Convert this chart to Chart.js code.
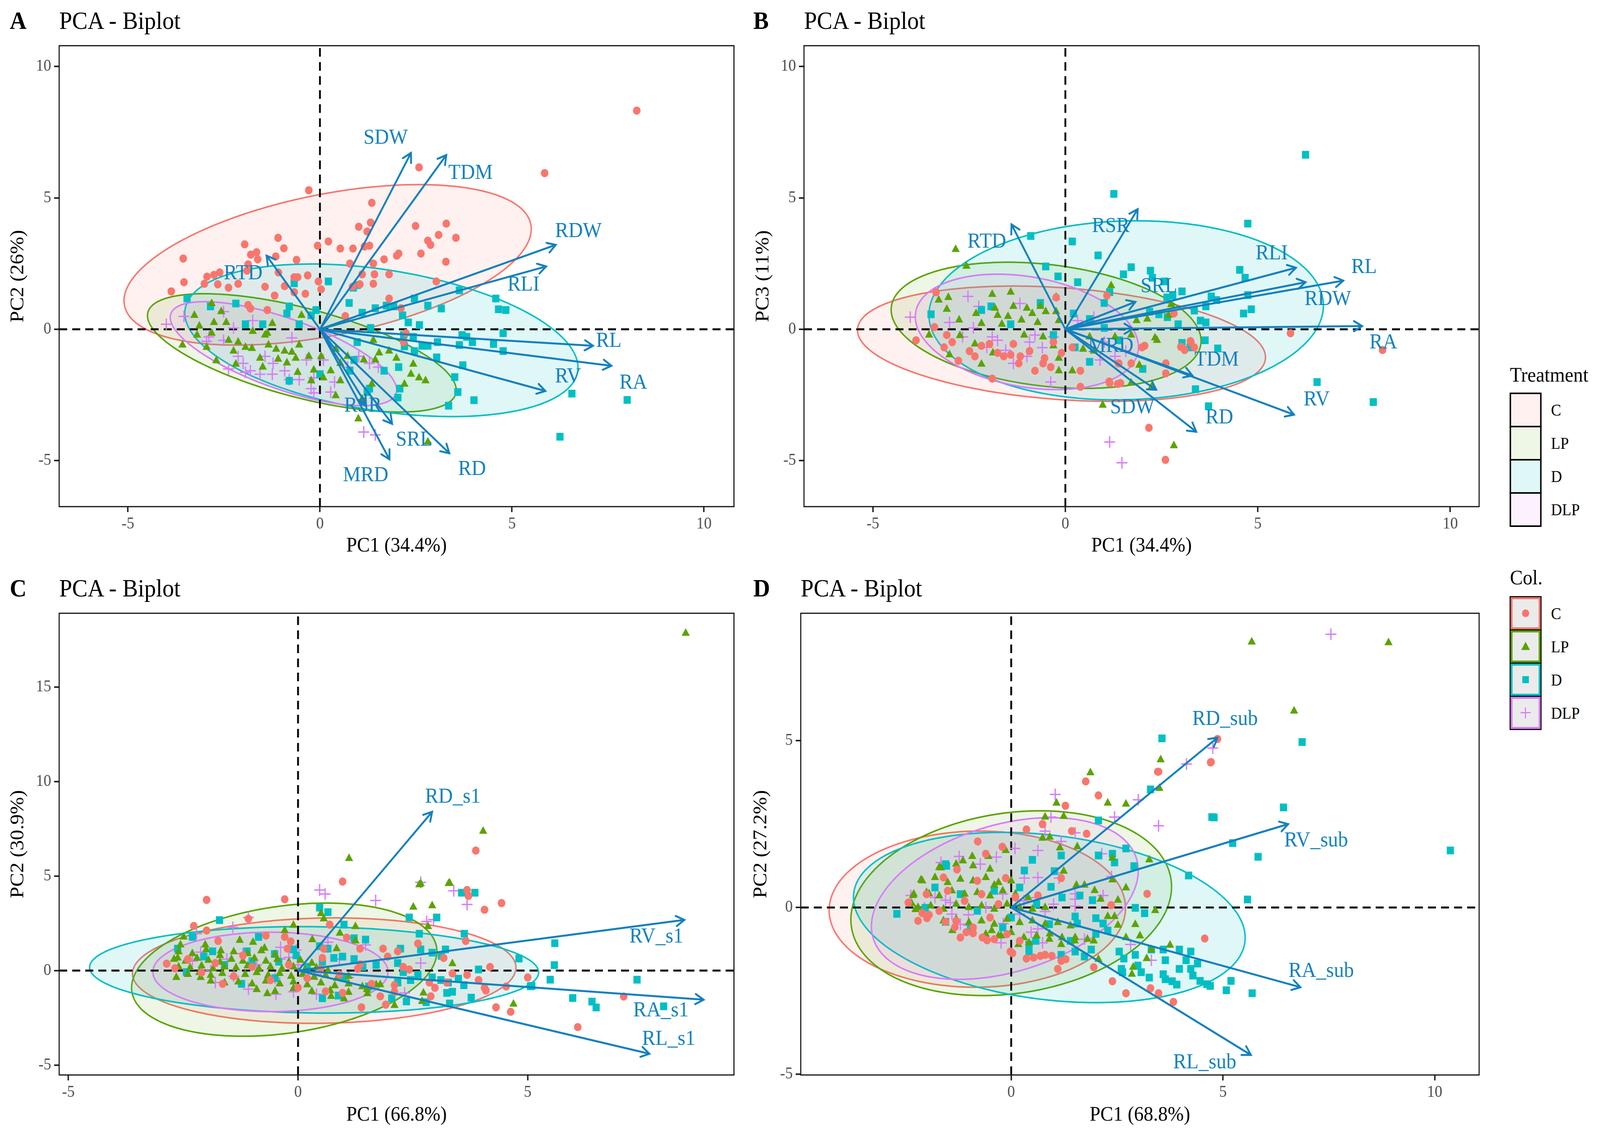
<!DOCTYPE html>
<html>
<head>
<meta charset="utf-8">
<script src="https://cdn.jsdelivr.net/npm/chart.js@4.4.1/dist/chart.umd.min.js"></script>
<style>
html,body{margin:0;padding:0;background:#fff;overflow:hidden;}
#page{position:absolute;left:0;top:0;width:4408px;height:2898px;background:#fff;overflow:hidden;transform-origin:0 0;font-family:"Liberation Serif","Times New Roman",serif;color:#000;}
canvas{position:absolute;}
.tag{position:absolute;font-size:64px;line-height:64px;font-weight:bold;}
.ttl{position:absolute;font-size:64px;line-height:64px;}
.lgt{position:absolute;font-size:53px;line-height:53px;}
.llab{position:absolute;font-size:42px;line-height:42px;}
.tbox{position:absolute;width:88px;height:89px;box-sizing:border-box;border:4px solid #000;}
.cbox{position:absolute;width:88px;height:88px;box-sizing:border-box;border:3px solid #111;}
.cin{position:absolute;left:5px;top:5px;right:5px;bottom:5px;background:#ebebeb;}
</style>
</head>
<body>
<div id="page">
<div class="tag" style="left:27px;top:21px">A</div>
<div class="ttl" style="left:163px;top:21px">PCA - Biplot</div>
<div class="tag" style="left:2075px;top:21px">B</div>
<div class="ttl" style="left:2215px;top:21px">PCA - Biplot</div>
<div class="tag" style="left:27px;top:1474px">C</div>
<div class="ttl" style="left:163px;top:1474px">PCA - Biplot</div>
<div class="tag" style="left:2075px;top:1474px">D</div>
<div class="ttl" style="left:2206px;top:1474px">PCA - Biplot</div>

<canvas id="chA" width="2050" height="1430" style="left:0px;top:0px;width:2050px;height:1430px"></canvas>
<canvas id="chB" width="2050" height="1430" style="left:2060px;top:0px;width:2050px;height:1430px"></canvas>
<canvas id="chC" width="2050" height="1468" style="left:0px;top:1430px;width:2050px;height:1468px"></canvas>
<canvas id="chD" width="2050" height="1468" style="left:2060px;top:1430px;width:2050px;height:1468px"></canvas>

<div id="legend"></div>
</div>

<script>
// the window may be narrower than the 4408x2898 figure: stretch the page onto it
var page = document.getElementById('page');
var sx = window.innerWidth / 4408, sy = window.innerHeight / 2898;
if (Math.abs(sx - 1) > 0.002 || Math.abs(sy - 1) > 0.002) page.style.transform = 'scale(' + sx + ',' + sy + ')';

// groups and styles
var groups = ['C', 'LP', 'D', 'DLP'];
var grpColors = ['#F8766D', '#5BA300', '#00BFC4', '#D77CF7'];
var grpFills = ['rgba(248,118,109,0.10)', 'rgba(91,163,0,0.10)', 'rgba(0,191,196,0.12)', 'rgba(215,124,247,0.10)'];
var grpStyles = ['circle', 'triangle', 'rect', 'cross'];
var grpRadius = [10.5, 13, 14, 15];
var arrowColor = '#1380BD';
var fontFam = '"Liberation Serif", "Times New Roman", serif';

//---------------- panel A : PC1 / PC2 ----------------
var xTicksA = [-5, 0, 5, 10];
var yTicksA = [-5, 0, 5, 10];
var varsA = ['SDW', 'TDM', 'RDW', 'RLI', 'RL', 'RA', 'RV', 'RD', 'SRL', 'MRD', 'RSR', 'RTD'];
var tipsA = [[2.37,6.71],[3.29,6.63],[6.14,3.21],[5.89,2.39],[7.11,-0.63],[7.59,-1.39],[5.87,-2.35],[3.37,-4.72],[1.88,-3.6],[1.81,-4.95],[1.2,-2.85],[-1.39,2.80]];
var labsA = [[1.71,7.28],[3.92,5.94],[6.73,3.72],[5.30,1.68],[7.52,-0.46],[8.16,-2.04],[6.46,-1.81],[3.96,-5.33],[2.45,-4.22],[1.19,-5.57],[1.12,-2.93],[-2.0,2.12]];
// ellipse: centre x, centre y, semi axis a, semi axis b, angle (deg)
var ellA = [[0.2,2.45,5.53,2.62,18.8],[-0.47,-0.9,4.31,1.63,-22.9],[1.6,-0.42,5.26,2.64,-15.4],[-0.95,-0.93,3.32,1.26,-29.8]];
var ptsA_C = [[8.25,8.32],[5.85,5.94],[2.58,6.16],[-0.29,5.29],[1.35,4.81],[3.29,4.02],[2.49,3.93],[1.01,3.9],[1.32,4.06],[1.23,3.72],[3.09,3.59],[3.54,3.48],[2.81,3.37],[2.88,3.21],[-1.09,3.48],[-1.96,3.23],[-0.94,3.08],[-0.06,3.18],[0.22,3.34],[0.53,3.07],[0.86,3.07],[1.16,3.15],[1.29,3.18],[2.63,2.88],[2.05,2.88],[2.0,2.8],[1.67,2.66],[1.39,2.5],[3.28,2.57],[-1.65,2.93],[-1.8,2.84],[-1.62,2.66],[-1.15,2.77],[-1.87,2.47],[-3.56,2.69],[-3.54,1.79],[-3.87,1.44],[-3.01,1.73],[-2.94,2.0],[-2.76,2.07],[-2.61,2.16],[-2.66,1.71],[-2.38,1.58],[-2.13,1.73],[-1.9,2.23],[-1.43,1.62],[-1.08,2.16],[-0.92,1.64],[-0.67,1.98],[-0.58,1.98],[-0.32,2.05],[-0.61,2.64],[-0.04,1.82],[0.03,1.52],[-0.38,1.35],[-1.18,1.28],[-0.67,1.41],[0.78,2.5],[1.1,2.09],[1.42,2.09],[1.8,2.09],[1.04,1.71],[1.39,1.73],[1.8,1.17],[2.11,0.8],[3.03,1.82],[-1.87,0.92],[-1.81,0.79],[-1.37,0.73],[0.66,0.5],[2.24,-0.15],[2.18,-0.49],[0.85,1.62]];
var ptsA_LP = [[2.81,-4.29],[1.0,-3.41],[2.75,-1.96],[2.43,-1.33],[2.58,-1.85],[2.2,-2.09],[2.37,-1.71],[1.99,-1.1],[1.8,-0.83],[1.54,-0.9],[1.39,-0.42],[1.44,-1.17],[1.14,-1.17],[1.35,-2.09],[1.1,-2.66],[0.53,-1.96],[0.41,-2.53],[0.09,-1.85],[0.03,-1.03],[-0.16,-1.55],[-0.29,-1.03],[-0.23,-1.96],[-0.58,-1.64],[-0.54,-0.6],[-0.63,-1.1],[-0.86,-1.28],[-0.73,-0.87],[-0.92,-0.83],[-1.09,-1.14],[-1.14,-0.76],[-1.34,-0.6],[-1.37,-0.15],[-1.56,-1.1],[-1.49,-1.44],[-1.77,-0.73],[-1.94,-0.69],[-2.13,-0.49],[-2.25,-0.83],[-2.19,-1.33],[-2.38,-0.42],[-2.44,0.26],[-2.57,0.67],[-2.76,0.26],[-2.82,-0.15],[-2.7,-1.2],[-2.82,0.98],[-3.14,0.12],[-3.27,0.53],[-3.2,-0.22],[-2.95,-0.69],[-3.58,-0.6],[-1.24,0.22],[-1.43,-0.22],[-1.75,-0.08],[-0.48,0.53],[0.41,-0.76],[0.72,-1.03],[0.53,-1.3],[0.28,-1.58]];
var ptsA_D = [[8.0,-2.69],[6.25,-4.09],[6.56,-2.45],[4.01,-2.7],[3.59,-2.39],[3.35,-2.91],[3.51,-1.82],[3.72,-1.37],[3.04,-1.07],[2.81,-0.63],[3.06,-0.49],[3.63,-0.6],[3.82,-0.29],[3.7,-0.22],[3.97,-0.49],[4.52,-0.56],[4.77,-0.83],[4.77,-0.15],[4.65,0.76],[4.84,0.73],[4.58,1.17],[3.63,1.48],[3.16,0.79],[2.81,0.9],[2.46,1.17],[2.15,0.53],[2.3,0.26],[2.59,0.16],[1.92,0.87],[1.73,0.9],[1.44,0.8],[1.1,0.63],[1.32,0.05],[0.97,1.68],[0.87,1.58],[0.22,1.82],[-0.67,1.75],[-0.8,0.87],[-0.86,0.6],[-1.49,0.19],[-2.19,0.98],[-1.94,0.19],[-3.46,1.17],[-2.85,0.87],[-0.54,0.19],[-0.23,0.53],[-0.1,0.73],[0.76,1.0],[2.18,-0.22],[2.43,-0.29],[2.2,-0.65],[2.46,-0.83],[2.66,-0.63],[2.05,-1.44],[2.03,-2.6],[2.08,-2.26],[1.67,-1.58],[0.97,-0.49],[0.89,-1.17],[0.78,-1.58],[-0.8,-1.96],[0.0,-1.71],[1.29,-2.26],[1.23,-2.39]];
var ptsA_DLP = [[1.14,-3.91],[1.44,-4.02],[-4.0,0.19],[-3.54,0.49],[-2.51,0.67],[-2.95,-0.46],[-2.51,-0.42],[-2.13,-1.03],[-2.0,-1.3],[-1.81,-1.58],[-1.94,-1.64],[-1.56,-1.71],[-1.22,-1.3],[-1.24,-1.71],[-0.92,-1.58],[-0.8,-1.92],[-0.54,-1.92],[-0.35,-1.17],[-0.16,-1.85],[-0.16,-2.42],[-0.23,-2.26],[0.28,-2.39],[0.38,-2.01],[0.72,-1.44],[1.01,-1.03],[1.29,-1.3],[1.52,-1.44],[-1.75,0.33],[-2.25,0.05],[-2.89,-0.29],[0.09,-1.17],[-0.73,-0.33],[-1.43,-1.03],[-2.38,-1.51]];

//---------------- panel B : PC1 / PC3 ----------------
var xTicksB = [-5, 0, 5, 10];
var yTicksB = [-5, 0, 5, 10];
var varsB = ['RTD', 'RSR', 'RLI', 'RL', 'RDW', 'SRL', 'RA', 'MRD', 'TDM', 'SDW', 'RD', 'RV'];
var tipsB = [[-1.40,3.99],[1.88,4.57],[5.99,2.34],[7.22,1.85],[6.24,1.79],[1.82,1.04],[7.71,0.12],[1.75,0.02],[3.3,-1.76],[2.36,-2.3],[3.4,-3.9],[5.94,-3.25]];
var labsB = [[-2.04,3.32],[1.18,3.91],[5.36,2.88],[7.76,2.36],[6.82,1.14],[2.43,1.63],[8.26,-0.52],[1.18,-0.65],[3.93,-1.17],[1.74,-2.98],[4.0,-3.37],[6.53,-2.69]];
var ellB = [[-0.1,-0.55,5.33,2.12,-6.6],[-0.5,0.15,4.09,2.29,-12.3],[1.58,0.72,5.13,3.40,3.6],[-1.0,-0.1,3.01,2.04,-21.5]];
var ptsB_C = [[8.24,-0.79],[5.85,-0.15],[2.17,-3.75],[2.6,-4.97],[-3.88,-0.42],[-3.4,0.08],[-3.08,-0.22],[-2.94,-0.49],[-3.15,-0.69],[-2.78,-1.2],[-2.49,-0.83],[-2.35,-1.03],[-2.18,-0.63],[-1.9,-1.88],[-1.97,-0.56],[-1.76,-0.9],[-1.6,-1.03],[-1.42,-0.97],[-1.35,-0.56],[-1.17,-1.03],[-0.93,-0.83],[-0.79,-1.58],[-0.58,-1.3],[-0.54,-1.1],[-0.38,-1.44],[-0.31,-0.49],[-0.24,1.21],[-0.1,-0.9],[0.18,-0.69],[0.39,-2.19],[0.39,-1.58],[1.08,1.28],[1.15,-2.05],[1.43,-2.05],[1.38,-1.3],[1.71,-1.3],[1.99,-0.69],[2.06,-0.63],[2.61,-1.68],[2.82,0.6],[3.03,-0.69],[3.1,-0.79],[3.26,-0.49],[3.35,-0.69],[-1.21,-1.3],[-3.36,1.41],[2.61,-1.3],[3.0,-0.67],[3.25,-0.45],[1.36,-2.08],[1.14,-1.99],[1.39,-1.3]];
var ptsB_LP = [[-2.85,3.04],[-2.57,2.4],[2.82,-4.43],[0.97,-2.89],[1.19,1.66],[-0.24,1.22],[-1.42,1.41],[-1.9,1.33],[-3.04,1.21],[-3.29,1.11],[-3.08,0.76],[-2.76,0.35],[-2.32,0.6],[-2.18,0.22],[-1.83,0.8],[-1.76,0.53],[-1.49,0.49],[-1.35,0.87],[-1.14,0.35],[-1.0,0.8],[-0.86,0.6],[-0.72,0.26],[-0.65,0.87],[-0.51,0.67],[-0.24,0.67],[-0.17,0.33],[-1.07,-0.22],[-0.58,-0.29],[-0.31,-0.63],[-0.17,-1.58],[0.18,-1.58],[-0.17,-1.1],[0.46,-0.76],[0.74,-0.83],[0.63,-0.29],[1.29,-0.29],[1.71,-0.22],[1.85,0.33],[2.13,0.39],[2.33,-0.33],[2.38,-0.42],[1.92,-1.37],[1.71,-2.05],[2.24,-2.19],[2.68,0.53],[2.75,0.94],[-2.35,-0.56],[-2.74,-0.24],[-2.18,-1.33],[-3.01,-0.97],[-1.88,-0.9],[-3.54,-0.22],[-1.65,0.19]];
var ptsB_D = [[6.24,6.64],[1.26,5.15],[4.74,4.02],[-0.9,3.55],[0.18,3.34],[0.85,2.81],[-0.51,2.39],[-0.19,2.01],[0.32,1.79],[1.71,2.36],[1.51,2.09],[2.21,2.23],[2.26,1.96],[2.57,1.82],[3.03,1.44],[2.79,1.28],[2.64,1.21],[4.53,2.26],[4.67,1.96],[3.79,1.25],[3.93,1.11],[4.74,1.3],[4.63,0.6],[4.83,0.76],[3.65,0.87],[3.35,0.71],[3.51,0.33],[3.65,0.26],[2.93,0.19],[2.65,0.46],[2.43,0.57],[2.19,0.67],[1.15,1.41],[1.01,1.0],[0.63,0.39],[0.21,0.6],[-0.65,1.0],[-1.42,0.19],[-1.93,0.87],[-2.18,0.73],[-3.49,0.57],[-0.31,-0.22],[0.25,-0.69],[0.63,-1.24],[2.01,-1.51],[3.03,-0.52],[3.63,-0.42],[3.96,-0.73],[3.24,-0.69],[3.38,-2.28],[3.72,-2.93],[6.54,-2.01],[8.0,-2.77],[1.01,0.05],[1.4,-0.42]];
var ptsB_DLP = [[1.15,-4.29],[1.47,-5.08],[-4.03,0.46],[-2.53,1.25],[-1.18,0.98],[-2.25,0.87],[-3.01,0.26],[-1.9,-0.29],[-1.76,-0.42],[-2.04,-0.69],[-1.35,-1.3],[-1.0,-1.03],[-0.93,-0.49],[-0.79,-0.22],[-0.31,-0.29],[-0.38,-2.01],[0.32,0.33],[0.74,0.46],[0.9,-1.17],[1.01,-0.49],[1.29,-1.03],[1.57,-0.83],[-2.39,0.05],[-2.67,-0.29],[-1.55,-0.8],[-0.6,-0.7]];

//---------------- panel C : PC1 / PC2 (s1) ----------------
var xTicksC = [-5, 0, 5];
var yTicksC = [-5, 0, 5, 10, 15];
var varsC = ['RD_s1', 'RV_s1', 'RA_s1', 'RL_s1'];
var tipsC = [[2.92,8.40],[8.41,2.68],[8.83,-1.54],[7.65,-4.40]];
var labsC = [[3.37,9.17],[7.80,1.78],[7.90,-2.12],[8.07,-3.63]];
var ellC = [[0.57,0.0,4.18,2.78,3.9],[-0.3,0.05,3.87,2.91,51],[0.35,0.04,4.89,2.28,-2],[-0.6,-0.07,2.56,2.1,0]];
var ptsC_C = [[3.87,6.35],[0.97,4.71],[-1.99,3.74],[-0.29,3.77],[-1.08,2.74],[-2.27,2.36],[-1.99,2.12],[-1.74,1.57],[-0.7,1.85],[-0.29,1.78],[-0.16,1.54],[-0.23,1.16],[0.69,2.43],[1.06,1.74],[0.56,1.16],[0.53,0.67],[1.35,1.16],[1.35,0.33],[1.85,1.16],[2.17,1.02],[1.95,0.74],[2.29,0.19],[2.42,0.06],[2.61,1.43],[3.68,4.26],[3.71,3.95],[4.06,3.22],[4.43,3.57],[3.65,1.57],[4.18,0.19],[3.68,-0.22],[3.93,-0.5],[4.06,-0.91],[4.09,-1.05],[4.53,-0.84],[5.0,-0.36],[4.31,-1.94],[4.63,-2.18],[2.86,-0.63],[2.98,-0.91],[2.89,-1.36],[2.1,-0.77],[2.1,-1.12],[1.79,-1.36],[1.38,-1.94],[1.91,-1.8],[0.97,-1.18],[-1.64,-0.7],[-2.86,0.37],[-2.68,0.12],[3.17,0.67],[3.36,-0.15],[3.24,-0.63],[7.09,-1.37],[6.09,-2.99],[-2.4,0.6],[-2.1,-0.1],[-1.8,0.4],[-1.4,-0.3],[-1.0,0.2],[-0.6,-0.5],[-0.2,0.3],[0.2,-0.4],[0.5,0.1],[0.9,-0.2],[1.3,0.1],[1.6,-0.7],[-1.2,0.8],[0.0,-0.9],[0.6,-1.1]];
var ptsC_LP = [[8.44,17.84],[4.03,7.37],[1.11,5.93],[3.28,4.61],[2.64,4.54],[2.67,4.6],[3.3,4.63],[2.51,3.36],[2.92,3.43],[2.83,2.33],[0.5,3.02],[0.56,2.74],[-0.1,2.4],[-0.29,2.12],[0.91,1.98],[1.25,2.33],[0.31,1.64],[0.84,1.16],[1.25,1.57],[-2.49,1.78],[-2.56,1.36],[-2.02,1.36],[-1.68,1.05],[-1.27,1.6],[-0.98,1.5],[-0.73,1.19],[3.36,0.37],[4.69,-1.77],[2.1,-1.84],[2.73,-1.18],[2.7,-1.63],[1.51,-1.22],[1.79,-0.74],[0.72,-1.36],[1.0,-1.49],[-0.67,-1.22],[-2.65,-0.36],[-2.12,-0.36],[-2.62,0.67],[-2.6,1.0],[-2.3,0.9],[-2.0,1.1],[-1.7,0.8],[-1.4,1.0],[-1.1,0.9],[-0.8,1.05],[-0.5,0.85],[-2.7,0.6],[-2.45,0.5],[-2.2,0.65],[-1.95,0.55],[-1.7,0.45],[-1.45,0.6],[-1.2,0.5],[-0.95,0.65],[-0.7,0.5],[-0.45,0.6],[-0.2,0.45],[0.05,0.55],[0.3,0.4],[-2.6,0.2],[-2.35,0.15],[-2.1,0.25],[-1.85,0.1],[-1.6,0.2],[-1.35,0.15],[-1.1,0.25],[-0.85,0.1],[-0.6,0.2],[-0.35,0.1],[-0.1,0.2],[0.15,0.05],[0.4,0.15],[0.65,0.0],[-2.4,-0.2],[-2.15,-0.1],[-1.9,-0.25],[-1.65,-0.15],[-1.4,-0.3],[-1.15,-0.2],[-0.9,-0.1],[-0.65,-0.25],[-0.4,-0.15],[-0.15,-0.3],[0.1,-0.2],[0.35,-0.35],[0.6,-0.25],[0.85,-0.4],[1.1,-0.3],[-1.9,-0.55],[-1.6,-0.65],[-1.3,-0.6],[-1.0,-0.7],[-0.7,-0.55],[-0.4,-0.7],[-0.1,-0.6],[0.2,-0.75],[0.5,-0.65],[0.8,-0.8],[1.1,-0.7],[1.4,-0.85],[1.7,-0.75],[-0.9,-1.0],[-0.5,-1.1],[-0.1,-0.95],[0.3,-1.1],[0.7,-1.05],[1.1,-1.15],[1.5,-1.0]];
var ptsC_D = [[0.47,3.33],[0.65,3.09],[1.0,2.43],[2.42,2.81],[3.02,2.81],[3.56,4.12],[3.85,4.12],[2.64,1.95],[3.62,1.95],[4.81,0.64],[5.09,-0.81],[1.47,1.64],[1.22,1.71],[0.65,1.16],[0.78,0.67],[0.97,0.74],[1.22,0.61],[1.41,0.19],[2.23,1.16],[2.67,1.12],[2.92,0.95],[3.21,1.12],[3.12,0.78],[2.17,0.4],[2.29,-0.08],[2.45,-0.5],[2.61,-0.22],[2.92,-0.36],[3.11,-0.5],[3.27,-0.63],[3.49,-0.43],[3.61,-0.77],[3.36,-1.12],[3.24,-1.18],[3.3,-1.74],[3.77,-1.43],[3.93,0.06],[2.79,-1.67],[2.36,-1.63],[2.04,-1.46],[2.17,-0.63],[1.54,-0.84],[0.53,-1.46],[0.88,-1.32],[-1.23,-0.7],[-2.43,-0.08],[-2.62,1.16],[-2.3,1.78],[-1.71,2.67],[-0.86,1.78],[-1.11,1.02],[-0.04,0.81],[-0.1,1.12],[0.47,1.29],[-0.51,0.88],[-1.86,1.02],[-2.05,0.74],[0.53,0.47],[-0.42,0.47],[5.59,1.45],[5.58,0.29],[5.49,-0.48],[5.06,-0.83],[5.98,-1.45],[6.4,-1.64],[6.49,-1.95],[7.38,-0.48],[7.96,-1.89],[-1.6,0.3],[-1.0,0.5],[-0.5,-0.4],[0.2,0.2],[1.0,-0.4],[1.7,0.3]];
var ptsC_DLP = [[0.47,4.26],[0.59,4.05],[1.69,3.71],[2.67,4.67],[3.39,4.22],[3.68,3.5],[2.8,2.6],[2.95,2.7],[-1.08,2.81],[-1.42,2.29],[-2.21,1.95],[-2.12,0.98],[-0.38,1.23],[-0.04,1.09],[0.65,1.5],[-0.38,0.61],[-1.55,0.61],[-1.8,-0.63],[-1.08,-0.98],[-0.48,-1.25],[-0.1,-1.12],[0.4,-1.25],[1.1,-0.36],[2.67,0.4],[2.32,-1.18],[1.47,1.36],[-2.3,0.5],[-1.9,0.0],[-1.4,-0.3],[-0.9,0.3],[-0.5,-0.4],[0.0,0.3],[0.4,-0.2],[0.9,0.6],[-1.2,0.9],[-0.2,0.7]];

//---------------- panel D : PC1 / PC2 (sub) ----------------
var xTicksD = [0, 5, 10];
var yTicksD = [-5, 0, 5];
var varsD = ['RD_sub', 'RV_sub', 'RA_sub', 'RL_sub'];
var tipsD = [[4.87,5.09],[6.54,2.50],[6.83,-2.39],[5.66,-4.42]];
var labsD = [[5.05,5.64],[7.20,2.0],[7.32,-1.91],[4.57,-4.65]];
var ellD = [[-0.8,-0.05,3.5,2.34,1],[0.0,0.13,3.85,2.68,14.6],[0.9,-0.3,4.68,2.45,-10.3],[-0.15,0.27,3.35,2.14,26.2]];
var ptsD_C = [[4.87,5.05],[4.72,4.36],[3.46,4.07],[1.76,3.78],[2.06,3.36],[3.48,4.07],[4.71,4.35],[1.28,3.05],[-2.43,0.15],[-2.1,-0.17],[-1.99,-0.32],[-1.28,1.14],[-0.79,1.98],[-0.6,1.61],[-0.21,1.82],[-0.13,0.88],[-1.06,-0.74],[-0.9,-0.77],[-0.68,-0.9],[-0.57,-0.98],[-0.4,-0.95],[-0.02,-1.32],[0.03,-1.37],[0.36,-1.53],[0.53,-1.5],[0.69,-1.45],[0.8,-1.42],[0.96,-1.45],[1.1,-1.84],[1.18,-1.6],[1.29,-1.55],[0.36,2.34],[0.74,2.5],[1.43,2.29],[1.78,2.21],[1.95,-1.79],[2.39,-2.21],[2.71,-2.57],[3.21,0.41],[2.36,0.07],[4.57,-0.93],[3.29,-2.42],[3.83,-2.83],[3.48,-2.57],[0.63,0.36],[1.18,0.88],[-1.33,-0.59],[-1.55,-0.43],[-1.94,-0.22],[-2.0,0.4],[-1.7,-0.1],[-1.5,0.5],[-1.3,-0.4],[-1.1,0.2],[-0.9,-0.6],[-0.7,0.4],[-0.5,-0.3],[-0.3,0.1],[-0.1,-0.8],[0.2,-1.0],[-0.8,0.8],[-1.6,0.9],[0.1,0.3],[-2.2,-0.4],[-1.2,-0.9]];
var ptsD_LP = [[5.68,7.96],[8.91,7.94],[6.68,5.89],[3.53,4.43],[1.87,4.04],[3.5,3.57],[2.28,3.13],[2.71,3.1],[1.07,3.13],[0.8,2.71],[1.24,2.73],[0.74,2.08],[0.91,2.11],[1.15,1.79],[1.56,1.82],[2.39,1.48],[3.26,1.43],[1.24,1.09],[2.39,0.83],[2.71,0.59],[2.52,0.22],[2.11,0.25],[1.97,0.51],[1.73,0.67],[1.54,0.67],[3.4,-0.09],[2.93,-0.51],[2.52,-0.53],[2.44,-0.27],[2.28,-0.27],[3.04,-0.85],[2.71,-0.9],[3.31,-1.26],[3.75,-1.13],[3.2,-1.53],[2.88,-1.79],[2.85,-2.0],[2.06,-1.55],[1.95,-1.0],[1.51,-0.9],[1.18,-1.11],[0.91,-0.79],[0.42,-1.06],[0.17,-1.11],[-0.24,-0.85],[-0.46,-0.69],[-1.39,-0.69],[-0.4,0.67],[-0.13,1.71],[-0.54,1.53],[-0.92,1.53],[-1.14,1.4],[-1.66,1.19],[-2.13,0.83],[-2.32,0.36],[-2.35,0.12],[-2.26,-0.06],[-1.94,0.41],[-1.7,1.2],[-1.3,1.3],[-0.9,1.25],[-0.5,1.15],[-2.1,0.8],[-1.8,0.9],[-1.5,0.75],[-1.2,0.85],[-0.9,0.8],[-0.6,0.9],[-0.3,0.75],[0.0,0.8],[-2.3,0.4],[-2.0,0.45],[-1.7,0.35],[-1.4,0.5],[-1.1,0.4],[-0.8,0.45],[-0.5,0.35],[-0.2,0.5],[0.1,0.4],[0.4,0.3],[-2.2,0.0],[-1.9,0.05],[-1.6,-0.05],[-1.3,0.1],[-1.0,0.0],[-0.7,0.05],[-0.4,-0.05],[-0.1,0.1],[0.2,0.0],[0.5,-0.05],[0.8,0.0],[-1.6,-0.4],[-1.3,-0.35],[-1.0,-0.45],[-0.7,-0.4],[-0.4,-0.5],[-0.1,-0.35],[0.2,-0.45],[0.5,-0.4],[0.8,-0.5],[1.1,-0.45],[1.4,-0.55],[-0.6,-0.8],[-0.3,-0.85],[0.0,-0.75],[0.3,-0.9],[0.6,-0.85],[0.9,-0.95],[1.2,-0.9],[1.5,-1.0],[1.8,-0.95]];
var ptsD_D = [[10.37,1.71],[6.87,4.96],[3.56,5.07],[6.43,3.0],[4.79,2.7],[5.23,1.93],[5.83,1.52],[5.58,0.24],[5.19,-2.2],[5.08,-2.48],[5.69,-2.57],[4.7,-2.35],[-2.7,-0.19],[-1.55,1.3],[0.5,1.43],[0.31,1.11],[0.94,0.62],[1.02,1.09],[1.18,1.56],[2.06,1.56],[2.39,1.61],[2.44,1.35],[2.71,1.77],[2.9,1.24],[1.92,0.22],[1.62,0.36],[2.93,-0.01],[3.15,-0.17],[2.06,2.61],[3.29,3.54],[4.19,0.96],[4.74,2.71],[-1.55,-0.43],[2.0,-0.32],[2.17,-0.48],[2.0,-0.79],[2.28,-0.69],[1.51,-0.27],[1.56,-0.48],[1.4,-1.0],[1.18,-1.42],[1.51,-1.32],[1.73,-1.47],[1.89,-1.26],[0.42,-1.11],[0.58,-1.0],[0.42,-1.32],[2.55,-1.32],[2.66,-1.53],[2.6,-1.84],[2.63,-1.94],[2.99,-1.74],[3.07,-1.94],[3.26,-2.1],[2.93,-1.42],[3.31,-1.26],[3.59,-1.26],[3.64,-1.58],[3.59,-2.0],[3.64,-2.15],[3.8,-2.21],[3.97,-1.26],[3.97,-1.84],[4.13,-1.58],[4.24,-1.32],[4.24,-1.84],[4.4,-1.68],[4.29,-2.04],[4.46,-2.2],[4.62,-2.3],[3.91,-2.31],[-1.2,0.4],[-0.8,-0.1],[-0.4,0.5],[0.0,-0.3],[0.2,0.6],[0.6,0.1],[0.9,-0.5],[1.2,0.3],[-1.8,0.6],[-0.2,-0.6],[-2.03,-0.01],[-1.53,1.25],[-0.96,-0.61]];
var ptsD_DLP = [[7.55,8.19],[4.76,4.78],[4.14,4.3],[3.0,3.23],[3.48,2.45],[2.44,2.71],[1.04,3.39],[0.94,2.71],[0.8,2.29],[1.51,2.24],[1.18,1.98],[0.63,1.71],[0.09,1.77],[-0.35,1.51],[-1.23,1.53],[-1.66,1.35],[0.31,0.88],[0.63,0.9],[1.13,0.88],[1.51,0.41],[1.51,0.25],[1.51,0.04],[2.14,1.61],[2.37,0.93],[2.17,0.36],[0.8,-0.12],[0.63,-0.64],[0.47,-0.74],[0.74,-1.06],[-0.19,-0.48],[-0.24,-1.06],[-1.01,-0.53],[-1.01,-0.22],[-1.44,0.15],[-1.55,0.22],[-2.05,-0.01],[-2.37,0.36],[-0.73,1.3],[1.73,-0.95],[3.31,-1.58],[2.82,-1.11],[-1.8,0.3],[-1.4,-0.2],[-0.6,0.0],[-0.2,0.4],[0.2,-0.2],[0.6,0.3],[1.0,0.1],[-1.2,-0.5],[0.3,0.2]];


//biplot plugin: ellipses, zero lines, arrow heads, labels, frame
function biplotPlugin(cfg){
  return {
    id: 'biplot',
    beforeDatasetsDraw: function(chart){
      var ctx = chart.ctx, ca = chart.chartArea, xs = chart.scales.x, ys = chart.scales.y;
      ctx.save();
      cfg.ell.forEach(function(e, g){
        var t = e[4] * Math.PI / 180;
        ctx.beginPath();
        for (var k = 0; k <= 180; k++){
          var u = k / 180 * 2 * Math.PI;
          var ex = e[0] + e[2]*Math.cos(u)*Math.cos(t) - e[3]*Math.sin(u)*Math.sin(t);
          var ey = e[1] + e[2]*Math.cos(u)*Math.sin(t) + e[3]*Math.sin(u)*Math.cos(t);
          var px = xs.getPixelForValue(ex), py = ys.getPixelForValue(ey);
          if (k == 0) ctx.moveTo(px, py); else ctx.lineTo(px, py);
        }
        ctx.closePath();
        ctx.fillStyle = grpFills[g];
        ctx.fill();
        ctx.lineWidth = 4;
        ctx.strokeStyle = grpColors[g];
        ctx.stroke();
      });
      // dashed lines at 0
      ctx.setLineDash([22, 14]);
      ctx.lineWidth = 5;
      ctx.strokeStyle = '#000';
      var x0 = xs.getPixelForValue(0), y0 = ys.getPixelForValue(0);
      ctx.beginPath();
      ctx.moveTo(x0, ca.bottom); ctx.lineTo(x0, ca.top);
      ctx.moveTo(ca.left, y0); ctx.lineTo(ca.right, y0);
      ctx.stroke();
      ctx.restore();
    },
    afterDatasetsDraw: function(chart){
      var ctx = chart.ctx, xs = chart.scales.x, ys = chart.scales.y;
      ctx.save();
      ctx.strokeStyle = arrowColor;
      ctx.lineWidth = 5;
      ctx.lineCap = 'round';
      var x0 = xs.getPixelForValue(0), y0 = ys.getPixelForValue(0);
      cfg.tips.forEach(function(t){
        var px = xs.getPixelForValue(t[0]), py = ys.getPixelForValue(t[1]);
        var ang = Math.atan2(py - y0, px - x0);
        var L = 26, wing = Math.PI / 6;
        ctx.beginPath();
        ctx.moveTo(px - L*Math.cos(ang - wing), py - L*Math.sin(ang - wing));
        ctx.lineTo(px, py);
        ctx.lineTo(px - L*Math.cos(ang + wing), py - L*Math.sin(ang + wing));
        ctx.stroke();
      });
      ctx.fillStyle = arrowColor;
      ctx.font = '55px ' + fontFam;
      ctx.textAlign = 'center';
      ctx.textBaseline = 'middle';
      cfg.vars.forEach(function(v, i){
        ctx.fillText(v, xs.getPixelForValue(cfg.labs[i][0]), ys.getPixelForValue(cfg.labs[i][1]));
      });
      ctx.restore();
    },
    afterDraw: function(chart){
      var ctx = chart.ctx, ca = chart.chartArea;
      ctx.save();
      ctx.strokeStyle = '#111';
      ctx.lineWidth = 3;
      ctx.strokeRect(ca.left, ca.top, ca.right - ca.left, ca.bottom - ca.top);
      ctx.restore();
    }
  };
}

function makeChart(id, cfg){
  var datasets = [];
  cfg.tips.forEach(function(t, i){
    datasets.push({
      label: cfg.vars[i],
      data: [{x: 0, y: 0}, {x: t[0], y: t[1]}],
      showLine: true, borderColor: arrowColor, borderWidth: 5,
      pointRadius: 0, order: 0
    });
  });
  cfg.pts.forEach(function(p, g){
    datasets.push({
      label: groups[g],
      data: p.map(function(v){ return {x: v[0], y: v[1]}; }),
      pointStyle: grpStyles[g],
      pointRadius: grpRadius[g],
      backgroundColor: grpColors[g],
      borderColor: grpColors[g],
      pointBorderWidth: g == 3 ? 3.5 : 0,
      order: 1 + g
    });
  });
  var tickFont = {family: fontFam, size: 42};
  var titleFont = {family: fontFam, size: 53};
  return new Chart(document.getElementById(id), {
    type: 'scatter',
    data: {datasets: datasets},
    options: {
      responsive: false, animation: false,
      layout: {padding: {top: cfg.padTop, right: cfg.padRight, left: 0, bottom: 0}},
      plugins: {legend: {display: false}, tooltip: {enabled: false}},
      scales: {
        x: {
          type: 'linear', min: cfg.xMin, max: cfg.xMax,
          afterBuildTicks: function(s){ s.ticks = cfg.xTicks.map(function(v){ return {value: v}; }); },
          afterFit: function(s){ s.height = cfg.xAxisH; },
          ticks: {font: tickFont, color: '#4d4d4d', padding: 6, maxRotation: 0, autoSkip: false},
          grid: {drawOnChartArea: false, tickLength: 14, lineWidth: 4, color: '#222'},
          border: {display: false},
          title: {display: true, text: cfg.xTitle, font: titleFont, color: '#000', padding: {top: 0, bottom: cfg.xTitlePad}}
        },
        y: {
          type: 'linear', min: cfg.yMin, max: cfg.yMax,
          afterBuildTicks: function(s){ s.ticks = cfg.yTicks.map(function(v){ return {value: v}; }); },
          afterFit: function(s){ s.width = cfg.yAxisW; },
          ticks: {font: tickFont, color: '#4d4d4d', padding: 8, autoSkip: false},
          grid: {drawOnChartArea: false, tickLength: 14, lineWidth: 4, color: '#222'},
          border: {display: false},
          title: {display: true, text: cfg.yTitle, font: titleFont, color: '#000', padding: {top: cfg.yTitlePad, bottom: 0}}
        }
      }
    },
    plugins: [biplotPlugin(cfg)]
  });
}

makeChart('chA', {
  vars: varsA, tips: tipsA, labs: labsA, ell: ellA, pts: [ptsA_C, ptsA_LP, ptsA_D, ptsA_DLP],
  xTicks: xTicksA, yTicks: yTicksA, xMin: -6.79, xMax: 10.78, yMin: -6.75, yMax: 10.79,
  xTitle: 'PC1 (34.4%)', yTitle: 'PC2 (26%)',
  padTop: 117, padRight: 28, yAxisW: 163, xAxisH: 133, xTitlePad: 0, yTitlePad: 18
});
makeChart('chB', {
  vars: varsB, tips: tipsB, labs: labsB, ell: ellB, pts: [ptsB_C, ptsB_LP, ptsB_D, ptsB_DLP],
  xTicks: xTicksB, yTicks: yTicksB, xMin: -6.79, xMax: 10.75, yMin: -6.75, yMax: 10.79,
  xTitle: 'PC1 (34.4%)', yTitle: 'PC3 (11%)',
  padTop: 117, padRight: 35, yAxisW: 155, xAxisH: 133, xTitlePad: 0, yTitlePad: 11
});
makeChart('chC', {
  vars: varsC, tips: tipsC, labs: labsC, ell: ellC, pts: [ptsC_C, ptsC_LP, ptsC_D, ptsC_DLP],
  xTicks: xTicksC, yTicks: yTicksC, xMin: -5.2, xMax: 9.49, yMin: -5.52, yMax: 18.9,
  xTitle: 'PC1 (66.8%)', yTitle: 'PC2 (30.9%)',
  padTop: 140, padRight: 28, yAxisW: 163, xAxisH: 146, xTitlePad: 11, yTitlePad: 18
});
makeChart('chD', {
  vars: varsD, tips: tipsD, labs: labsD, ell: ellD, pts: [ptsD_C, ptsD_LP, ptsD_D, ptsD_DLP],
  xTicks: xTicksD, yTicks: yTicksD, xMin: -4.97, xMax: 11.05, yMin: -5.02, yMax: 8.82,
  xTitle: 'PC1 (68.8%)', yTitle: 'PC2 (27.2%)',
  padTop: 140, padRight: 35, yAxisW: 146, xAxisH: 146, xTitlePad: 11, yTitlePad: 5
});

//legends (Treatment fill, Col. symbol)
var lg = document.getElementById('legend');
var html = '<div class="lgt" style="left:4160px;top:933px">Treatment</div>';
groups.forEach(function(g, i){
  var top = 1005 + i * 85;
  html += '<div class="tbox" style="left:4159px;top:' + top + 'px;background:' + grpFills[i] + '"></div>';
  html += '<div class="llab" style="left:4273px;top:' + (top + 24) + 'px">' + g + '</div>';
});
html += '<div class="lgt" style="left:4160px;top:1452px">Col.</div>';
var symbols = [
  '<div style="position:absolute;left:29px;top:29px;width:20px;height:20px;border-radius:50%;background:' + grpColors[0] + '"></div>',
  '<div style="position:absolute;left:27px;top:27px;width:0;height:0;border-left:12px solid transparent;border-right:12px solid transparent;border-bottom:21px solid ' + grpColors[1] + '"></div>',
  '<div style="position:absolute;left:30px;top:30px;width:18px;height:18px;background:' + grpColors[2] + '"></div>',
  '<div style="position:absolute;left:25px;top:37px;width:28px;height:3px;background:' + grpColors[3] + '"></div><div style="position:absolute;left:37px;top:25px;width:3px;height:28px;background:' + grpColors[3] + '"></div>'
];
groups.forEach(function(g, i){
  var top = 1526 + i * 85;
  html += '<div class="cbox" style="left:4159px;top:' + top + 'px;background:' + grpColors[i] + '"><div class="cin"></div>' +
    '<div style="position:absolute;left:2px;top:2px;width:78px;height:78px">' + symbols[i] + '</div></div>';
  html += '<div class="llab" style="left:4273px;top:' + (top + 24) + 'px">' + g + '</div>';
});
lg.innerHTML = html;
</script>
</body>
</html>
